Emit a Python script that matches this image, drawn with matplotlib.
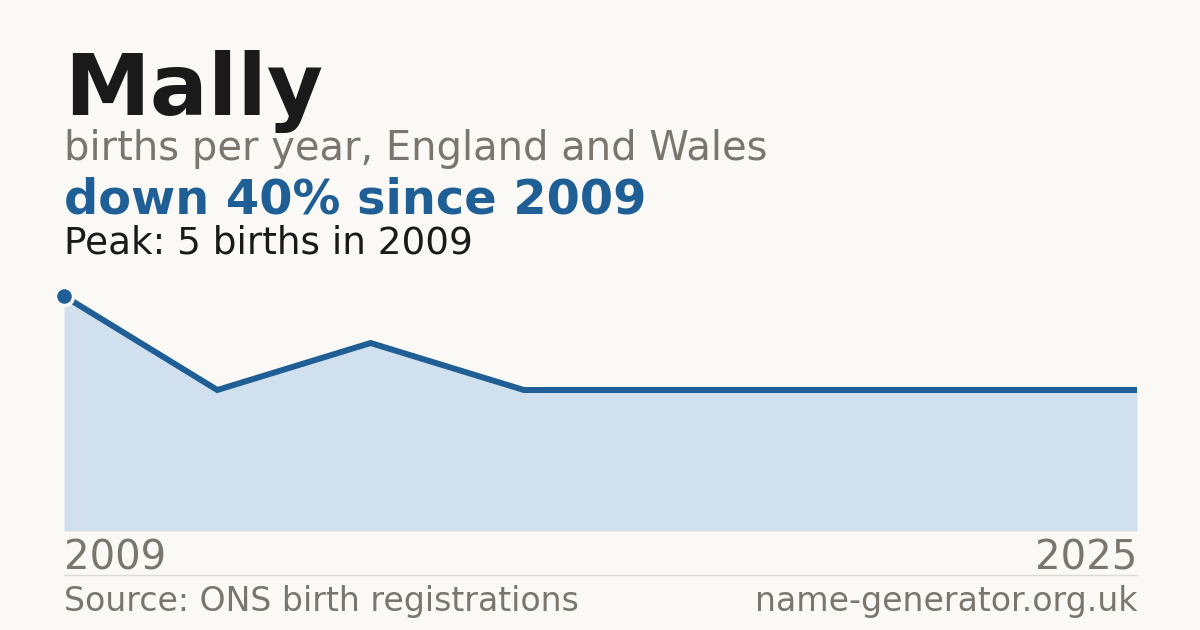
import matplotlib
matplotlib.use('Agg')
import matplotlib.pyplot as plt

# data
x_labels = ['2009', '2025']
births = [5, 3, 4, 3, 3, 3, 3, 3]
name = 'Mally'
subtitle = 'births per year, England and Wales'
headline = 'down 40% since 2009'
peak_text = 'Peak: 5 births in 2009'
source = 'Source: ONS birth registrations'
site = 'name-generator.org.uk'

BG = '#faf9f5'
BLUE = '#1f5f96'
FILL = '#d0e0ef'
GREY = '#7a756e'
DARK = '#1a1a1a'

W, H = 1200, 630
fig = plt.figure(figsize=(W / 100, H / 100), dpi=100, facecolor=BG)


def fy(py):
    return 1 - py / H


def fx(px):
    return px / W


fig.text(fx(64), fy(115), name, fontsize=62, fontweight='bold', color=DARK, va='baseline')
fig.text(fx(64), fy(160), subtitle, fontsize=28.8, color=GREY, va='baseline')
fig.text(fx(64), fy(214), headline, fontsize=34.5, fontweight='bold', color=BLUE, va='baseline')
fig.text(fx(64), fy(253), peak_text, fontsize=26.9, color=DARK, va='baseline')

# chart area: x 64..1137, y 296 (value 5) .. 531 (value 0)
ax = fig.add_axes([fx(64), fy(531), fx(1137 - 64), (531 - 296) / H])
ax.set_facecolor('none')
xs = list(range(len(births)))
ax.fill_between(xs, births, 0, color=FILL, lw=0)
ax.plot(xs, births, color=BLUE, lw=4.3, solid_capstyle='butt', solid_joinstyle='miter')
ax.plot(xs[0], births[0], 'o', ms=13, color=BLUE, mec=BG, mew=2.5, clip_on=False, zorder=5)
ax.set_xlim(0, len(births) - 1)
ax.set_ylim(0, max(births))
ax.axis('off')

fig.text(fx(64), fy(570), x_labels[0], fontsize=29, color=GREY, va='baseline')
fig.text(fx(1137), fy(570), x_labels[1], fontsize=29, color=GREY, va='baseline', ha='right')

fig.add_artist(plt.Line2D([fx(64), fx(1137)], [fy(574.5), fy(574.5)], color='#dddad3', lw=1))

fig.text(fx(64), fy(611), source, fontsize=23.9, color=GREY, va='baseline')
fig.text(fx(1137), fy(611), site, fontsize=23.9, color=GREY, va='baseline', ha='right')

fig.savefig('out.png', dpi=100, facecolor=BG)
